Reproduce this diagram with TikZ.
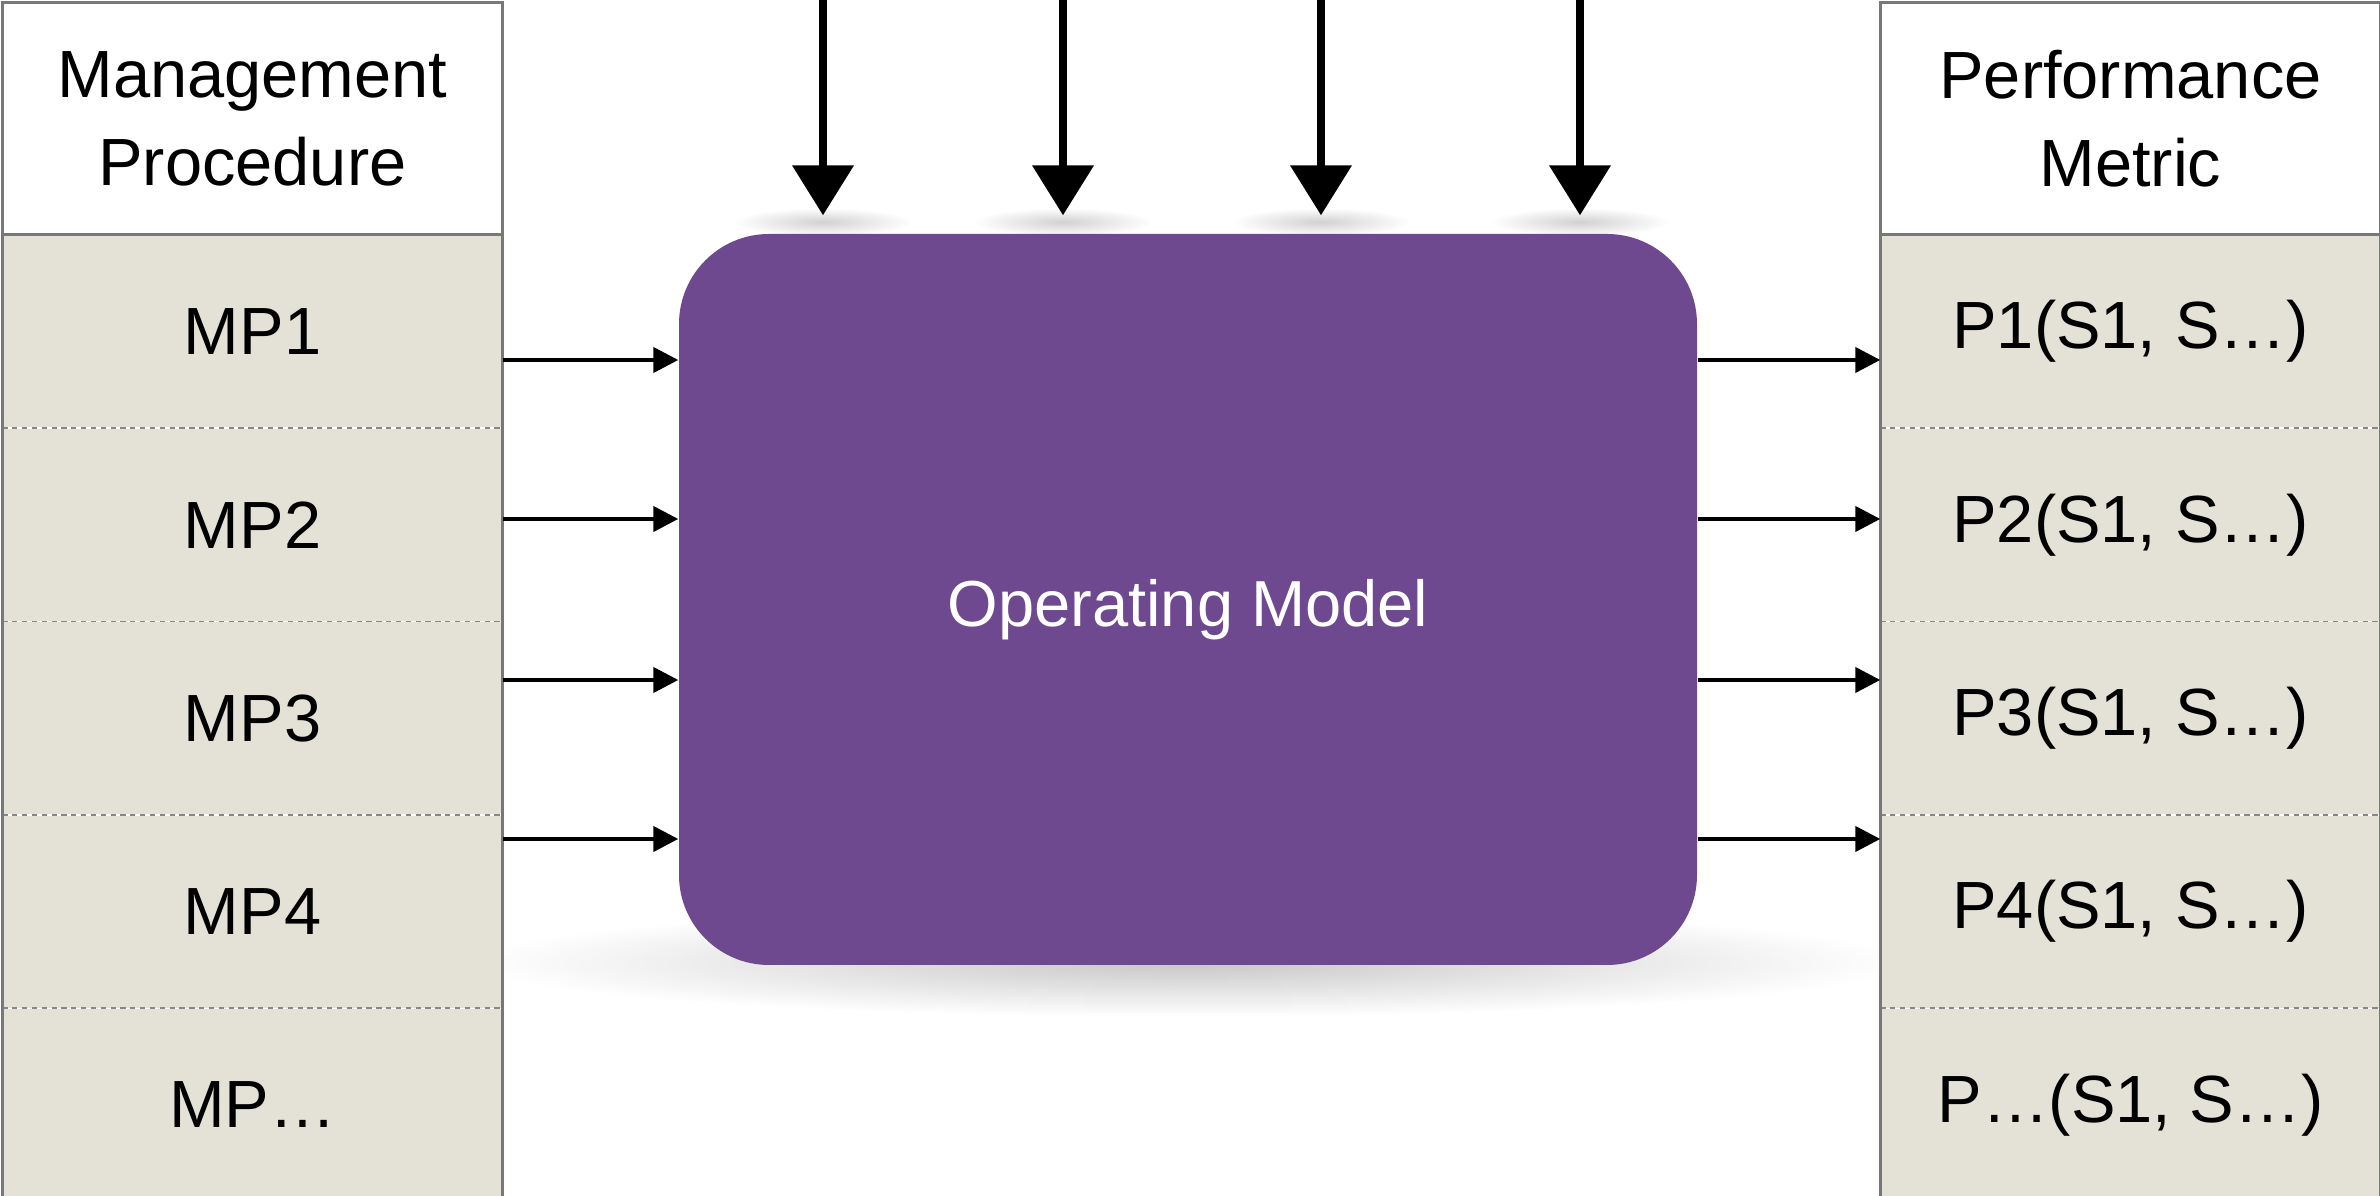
\documentclass[tikz,border=0pt]{standalone}
\usepackage{fontspec}
\setmainfont{Liberation Sans}
\usetikzlibrary{arrows.meta,positioning}
\definecolor{modelpurple}{RGB}{110,73,143}
\definecolor{rowfill}{RGB}{228,226,214}
\definecolor{tablegray}{RGB}{120,120,120}
\definecolor{sepgray}{RGB}{135,135,135}
\tikzset{
  cell/.style={rectangle, fill=rowfill, minimum width=4.99cm, minimum height=1.92cm,
    inner sep=0pt, align=center, font=\fontsize{19}{25}\selectfont},
  headcell/.style={cell, fill=white, minimum height=2.31cm},
  model/.style={rectangle, rounded corners=0.9cm, fill=modelpurple, text=white,
    minimum width=10.18cm, minimum height=7.31cm, font=\fontsize{18.5}{22}\selectfont},
  tableline/.style={draw=tablegray, line width=0.8pt},
  sepline/.style={draw=sepgray, line width=0.55pt, dash pattern=on 1.5pt off 1.3pt},
  flow/.style={draw=black, line width=1.2pt, -{Triangle[length=0.25cm,width=0.25cm]}},
  inflow/.style={draw=black, line width=2.2pt, -{Triangle[length=0.5cm,width=0.6cm]}, shorten >=0.18cm}
}
\begin{document}
\begin{tikzpicture}
  \useasboundingbox (0,0) rectangle (23.8,-11.96);
  % shadows
  \shade[inner color=black!22, outer color=white] (11.88,-9.62) ellipse (7.2cm and 0.55cm);
  \foreach \x in {8.23,10.63,13.21,15.80}
    \shade[inner color=black!18, outer color=white] (\x,-2.22) ellipse (0.9cm and 0.14cm);
  % operating model
  \node[model] (box) at (11.88,-5.995) {\raisebox{-0.27cm}[0pt][0pt]{Operating Model}};
  % left table
  \node[headcell] (mphead) at (2.525,-1.185) {Management\\Procedure};
  \node[cell, below=0pt of mphead] (mp1) {MP1};
  \node[cell, below=0pt of mp1] (mp2) {MP2};
  \node[cell, below=0pt of mp2] (mp3) {MP3};
  \node[cell, below=0pt of mp3] (mp4) {MP4};
  \node[cell, below=0pt of mp4] (mp5) {MP…};
  \draw[sepline] (mp1.south west) -- (mp1.south east);
  \draw[sepline] (mp2.south west) -- (mp2.south east);
  \draw[sepline] (mp3.south west) -- (mp3.south east);
  \draw[sepline] (mp4.south west) -- (mp4.south east);
  \draw[tableline] (mphead.north west) rectangle (mp5.south east);
  \draw[tableline] (mphead.south west) -- (mphead.south east);
  % right table
  \node[headcell] (pmhead) at (21.305,-1.185) {Performance\\Metric};
  \node[cell, below=0pt of pmhead] (pm1) {P1(S1, S…)};
  \node[cell, below=0pt of pm1] (pm2) {P2(S1, S…)};
  \node[cell, below=0pt of pm2] (pm3) {P3(S1, S…)};
  \node[cell, below=0pt of pm3] (pm4) {P4(S1, S…)};
  \node[cell, below=0pt of pm4] (pm5) {P…(S1, S…)};
  \draw[sepline] (pm1.south west) -- (pm1.south east);
  \draw[sepline] (pm2.south west) -- (pm2.south east);
  \draw[sepline] (pm3.south west) -- (pm3.south east);
  \draw[sepline] (pm4.south west) -- (pm4.south east);
  \draw[tableline] (pmhead.north west) rectangle (pm5.south east);
  \draw[tableline] (pmhead.south west) -- (pmhead.south east);
  % ports on the model
  \coordinate (in1) at (box.west |- 0,-3.60);
  \coordinate (in2) at (box.west |- 0,-5.19);
  \coordinate (in3) at (box.west |- 0,-6.80);
  \coordinate (in4) at (box.west |- 0,-8.39);
  \coordinate (out1) at (box.east |- in1);
  \coordinate (out2) at (box.east |- in2);
  \coordinate (out3) at (box.east |- in3);
  \coordinate (out4) at (box.east |- in4);
  \draw[flow] (mp1.east |- in1) -- (in1);
  \draw[flow] (mp1.east |- in2) -- (in2);
  \draw[flow] (mp1.east |- in3) -- (in3);
  \draw[flow] (mp1.east |- in4) -- (in4);
  \draw[flow] (out1) -- (pm1.west |- out1);
  \draw[flow] (out2) -- (pm1.west |- out2);
  \draw[flow] (out3) -- (pm1.west |- out3);
  \draw[flow] (out4) -- (pm1.west |- out4);
  % inputs from above
  \coordinate (top1) at (8.23,0);
  \coordinate (top2) at (10.63,0);
  \coordinate (top3) at (13.21,0);
  \coordinate (top4) at (15.80,0);
  \draw[inflow] (top1) -- (top1 |- box.north);
  \draw[inflow] (top2) -- (top2 |- box.north);
  \draw[inflow] (top3) -- (top3 |- box.north);
  \draw[inflow] (top4) -- (top4 |- box.north);
\end{tikzpicture}
\end{document}
